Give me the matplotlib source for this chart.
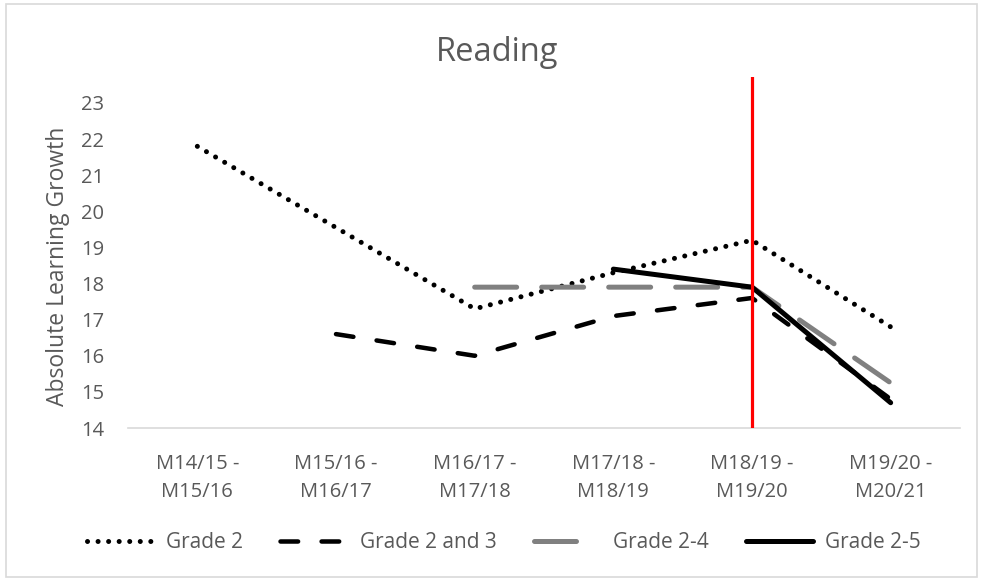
import numpy as np
import matplotlib
matplotlib.use("Agg")
import matplotlib.pyplot as plt
from matplotlib.patches import Rectangle

categories = ["M14/15 -\nM15/16", "M15/16 -\nM16/17", "M16/17 -\nM17/18",
              "M17/18 -\nM18/19", "M18/19 -\nM19/20", "M19/20 -\nM20/21"]
grade2 = [21.8, np.nan, 17.3, 18.3, 19.2, 16.8]
grade2_3 = [np.nan, 16.6, 16.0, 17.1, 17.6, 14.8]
grade2_4 = [np.nan, np.nan, 17.9, 17.9, 17.9, 15.25]
grade2_5 = [np.nan, np.nan, np.nan, 18.4, 17.9, 14.7]
yticks = list(range(14, 24))
marker_category = 4

plt.rcParams['font.family'] = ['Open Sans', 'DejaVu Sans']
TXT = '#595959'

W, H = 983, 580
fig = plt.figure(figsize=(W / 100, H / 100), dpi=100)
ax = fig.add_axes([128 / W, 1 - 428 / H, (960 - 128) / W, (428 - 77) / H])

x = np.arange(len(categories))

def draw(vals, **kw):
    v = np.array(vals, dtype=float)
    m = ~np.isnan(v)
    return ax.plot(x[m], v[m], **kw)[0]

l1 = draw(grade2, color='black', lw=3.6, dashes=(0.01, 2.1),
          dash_capstyle='round', label='Grade 2')
l2 = draw(grade2_3, color='black', lw=3.25, dashes=(3.9, 5.2),
          dash_capstyle='round', label='Grade 2 and 3')
l3 = draw(grade2_4, color='#808080', lw=3.6, dashes=(8.4, 5.0),
          dash_capstyle='round', label='Grade 2-4')
l4 = draw(grade2_5, color='black', lw=3.6, solid_capstyle='round',
          label='Grade 2-5')

ax.axvline(marker_category, color='#ff0000', lw=2.3, zorder=5)

ax.set_xlim(-0.5, len(categories) - 0.5)
ax.set_ylim(14, 23.72)
ax.set_yticks(yticks)
ax.set_xticks(x)
ax.set_xticklabels(categories, linespacing=1.5)
ax.tick_params(axis='y', length=0, pad=17, labelsize=14.5, labelcolor=TXT)
ax.tick_params(axis='x', length=0, pad=19, labelsize=14.5, labelcolor=TXT)
for s in ['top', 'right', 'left']:
    ax.spines[s].set_visible(False)
ax.spines['bottom'].set_color('#d9d9d9')
ax.spines['bottom'].set_linewidth(1.2)

fig.text(58 / W, 1 - 266 / H, 'Absolute Learning Growth', rotation=90,
         ha='center', va='center', fontsize=16.5, color=TXT)
fig.text(497 / W, 1 - 61 / H, 'Reading', ha='center', va='baseline',
         fontsize=23.5, color=TXT)

fig.legend(handles=[l1, l2, l3, l4], loc='center',
           bbox_to_anchor=(504 / W, 1 - 543 / H), ncol=4, frameon=False,
           fontsize=15, labelcolor=TXT, handlelength=3.2,
           handletextpad=0.6, columnspacing=1.8)

fig.add_artist(Rectangle((6 / W, 3 / H), (977 - 6) / W, (576 - 3) / H,
                         transform=fig.transFigure, fill=False,
                         edgecolor='#d9d9d9', lw=1.2))

fig.savefig('out.png', dpi=100)
